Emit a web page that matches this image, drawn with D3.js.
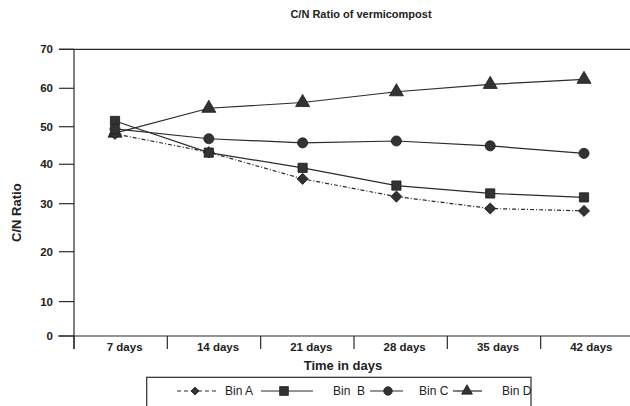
<!DOCTYPE html>
<html lang="en">
<head>
<meta charset="UTF-8">
<script src="https://d3js.org/d3.v7.min.js"></script>
<style>
  body { margin: 0; background: #fff; }
  text { font-family: Arial, "Liberation Sans", sans-serif; fill: #222; }
</style>
</head>
<body>
<div id="chart"></div>
<script>
// categories and series
const categories = ["7 days", "14 days", "21 days", "28 days", "35 days", "42 days"];
const binA = [48.1, 43.2, 36.3, 31.8, 29.0, 28.5];
const binB = [51.5, 43.1, 39.1, 34.6, 32.6, 31.6];
const binC = [49.4, 46.8, 45.7, 46.2, 44.9, 42.9];
const binD = [48.3, 54.8, 56.3, 59.1, 61.0, 62.3];
const yTicks = [0, 10, 20, 30, 40, 50, 60, 70];
const seriesNames = ["Bin A", "Bin  B", "Bin C", "Bin D"];

const W = 630, H = 406;
const plotLeft = 74, plotRight = 634, plotTop = 49.3, plotBottom = 336;
const ink = "#2b2b2b";

const svg = d3.select("#chart").append("svg")
    .attr("width", W).attr("height", H);

// the scanned axis is not evenly spaced, so the y scale is piecewise
const ySpacing = [0, 0.12, 0.294, 0.4615, 0.599, 0.73, 0.864, 1];
const y = d3.scaleLinear()
    .domain(yTicks)
    .range(ySpacing.map(f => plotBottom - f * (plotBottom - plotTop)));

const xBand = d3.scaleBand().domain(categories).range([plotLeft, plotRight]);
const xPt = d3.scalePoint().domain(categories).range([plotLeft + 41, plotRight - 50]);

// title
svg.append("text")
    .attr("x", 361).attr("y", 18)
    .attr("text-anchor", "middle")
    .style("font-size", "11px").style("font-weight", "bold")
    .text("C/N Ratio of vermicompost");

// top frame line
svg.append("line")
    .attr("x1", 59).attr("x2", W).attr("y1", y(70)).attr("y2", y(70))
    .attr("stroke", ink).attr("stroke-width", 1.2);

// y axis
svg.append("line")
    .attr("x1", plotLeft).attr("x2", plotLeft).attr("y1", y(70)).attr("y2", plotBottom + 13)
    .attr("stroke", ink).attr("stroke-width", 1.2);
svg.selectAll(".ytick").data(yTicks).enter().append("line")
    .attr("x1", 59).attr("x2", plotLeft)
    .attr("y1", d => y(d)).attr("y2", d => y(d))
    .attr("stroke", ink).attr("stroke-width", 1.2);
svg.selectAll(".ylab").data(yTicks).enter().append("text")
    .attr("x", 53).attr("y", d => y(d) + 4)
    .attr("text-anchor", "end")
    .style("font-size", "11.5px").style("font-weight", "bold")
    .text(d => d);
svg.append("text")
    .attr("transform", `translate(21,${(plotTop + plotBottom) / 2 + 20}) rotate(-90)`)
    .attr("text-anchor", "middle")
    .style("font-size", "13px").style("font-weight", "bold")
    .text("C/N Ratio");

// x axis
svg.append("line")
    .attr("x1", 58).attr("x2", W).attr("y1", plotBottom).attr("y2", plotBottom)
    .attr("stroke", ink).attr("stroke-width", 1.2);
svg.selectAll(".xtick").data(categories).enter().append("line")
    .attr("x1", d => xBand(d)).attr("x2", d => xBand(d))
    .attr("y1", plotBottom).attr("y2", plotBottom + 13)
    .attr("stroke", ink).attr("stroke-width", 1.2);
svg.selectAll(".xlab").data(categories).enter().append("text")
    .attr("x", d => xBand(d) + xBand.bandwidth() / 2 + 4)
    .attr("y", plotBottom + 15)
    .attr("text-anchor", "middle")
    .style("font-size", "11.5px").style("font-weight", "bold")
    .text(d => d);
svg.append("text")
    .attr("x", 343).attr("y", 370)
    .attr("text-anchor", "middle")
    .style("font-size", "13px").style("font-weight", "bold")
    .text("Time in days");

// series (diamond = square turned 45 degrees, like the original)
const series = [
  { name: seriesNames[0], values: binA, shape: d3.symbolSquare, size: 62, rot: 45, dash: "4,2,1,2" },
  { name: seriesNames[1], values: binB, shape: d3.symbolSquare, size: 85, rot: 0, dash: null },
  { name: seriesNames[2], values: binC, shape: d3.symbolCircle, size: 80, rot: 0, dash: null },
  { name: seriesNames[3], values: binD, shape: d3.symbolTriangle, size: 85, rot: 0, dash: null }
];

const line = d3.line()
    .x((d, i) => xPt(categories[i]))
    .y(d => y(d));

// stacking as in the picture: D at the back, then A, B, C
[series[3], series[0], series[1], series[2]].forEach(s => {
  svg.append("path")
      .datum(s.values)
      .attr("d", line)
      .attr("fill", "none")
      .attr("stroke", ink)
      .attr("stroke-width", 1.2)
      .attr("stroke-dasharray", s.dash);
  svg.selectAll(null).data(s.values).enter().append("path")
      .attr("d", d3.symbol().type(s.shape).size(s.size))
      .attr("transform", (d, i) => `translate(${xPt(categories[i])},${y(d)}) rotate(${s.rot})`)
      .attr("fill", "#333").attr("stroke", "#1a1a1a").attr("stroke-width", 0.8);
});

// legend
svg.append("rect")
    .attr("x", 146.7).attr("y", 377.3).attr("width", 384.3).attr("height", 40)
    .attr("fill", "none").attr("stroke", ink).attr("stroke-width", 1.2);

const legendY = 391;
const legendItems = [
  { x1: 177, x2: 217, mx: 195, tx: 225, k: 0.5 },
  { x1: 261, x2: 313, mx: 284, tx: 333, k: 0.9 },
  { x1: 370, x2: 403, mx: 388, tx: 419, k: 0.7 },
  { x1: 453, x2: 482, mx: 467, tx: 502, k: 0.6 }
];
series.forEach((s, i) => {
  const p = legendItems[i];
  svg.append("line")
      .attr("x1", p.x1).attr("x2", p.x2).attr("y1", legendY).attr("y2", legendY)
      .attr("stroke", ink).attr("stroke-width", 1.2)
      .attr("stroke-dasharray", s.dash ? "4,3" : null);
  svg.append("path")
      .attr("d", d3.symbol().type(s.shape).size(s.size * p.k))
      .attr("transform", `translate(${p.mx},${legendY}) rotate(${s.rot})`)
      .attr("fill", "#333").attr("stroke", "#1a1a1a").attr("stroke-width", 0.8);
  svg.append("text")
      .attr("x", p.tx).attr("y", legendY + 4)
      .style("font-size", "12px").style("white-space", "pre")
      .attr("xml:space", "preserve")
      .text(s.name);
});
</script>
</body>
</html>
